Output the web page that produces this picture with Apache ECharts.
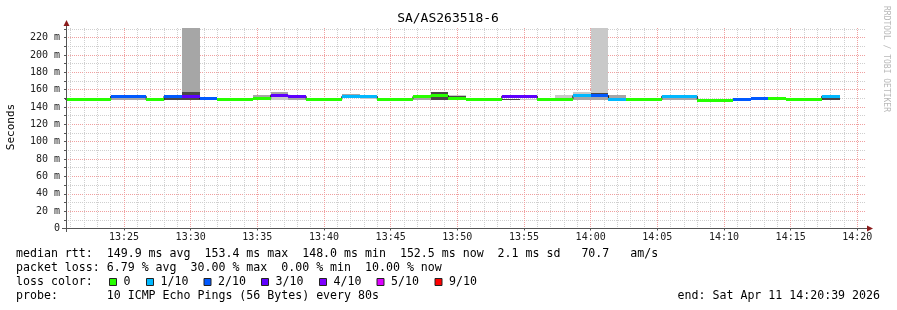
<!DOCTYPE html>
<html><head><meta charset="utf-8">
<script src="https://cdn.jsdelivr.net/npm/echarts@6/dist/echarts.min.js"></script>
<style>html,body{margin:0;padding:0;background:#fff}#c{width:897px;height:310px}</style>
</head><body><div id="c"></div>
<script>
// ---------------- data ----------------
const chartTitle = 'SA/AS263518-6';
const yAxisTitle = 'Seconds';
const watermark = 'RRDTOOL / TOBI OETIKER';
const viewStart = '13:20:39';
const viewEnd = '14:20:39';
const yMaxMs = 231;
const xTickLabels = ['13:25','13:30','13:35','13:40','13:45','13:50','13:55','14:00','14:05','14:10','14:15','14:20'];
const yTickLabels = ['0','20 m','40 m','60 m','80 m','100 m','120 m','140 m','160 m','180 m','200 m','220 m'];
const firstStepStart = '13:20:00';
const stepSeconds = 80;
// median RTT per 80 s step (ms)
const medianMs = [148.9,148.9,148.4,152.3,152.3,148.3,152.5,152.6,149.5,148.8,148.8,149.3,153.4,152.2,148.5,148.5,
  152.1,152.1,148.3,149.0,152.0,153.2,149.5,148.5,148.5,152.5,152.5,148.5,149.1,153.0,153.2,149.0,148.3,148.3,
  152.4,152.4,148.0,148.0,148.9,149.2,149.4,148.4,148.4,152.5];
// lost pings (out of 10) per step
const lossCount = [0,0,0,2,2,0,2,3,2,0,0,0,3,3,0,0,1,1,0,0,0,0,0,0,0,3,3,0,0,1,2,1,0,0,1,1,0,0,2,2,0,0,0,1];
// smoke bands (ms): light, mid, dark
const lightLo = [null,null,null,null,null,null,null,null,null,null,null,null,148.2,null,null,null,null,149.5,null,null,null,null,149.5,null,null,null,148.2,null,149.1,152.0,153.0,null,null,null,null,null,null,null,null,null,null,148.4,148.4,null];
const lightHi = [null,null,null,null,null,null,null,null,null,null,null,null,157.0,null,null,null,null,152.1,null,null,null,null,154.0,null,null,null,149.5,null,153.8,157.2,260,null,null,null,null,null,null,null,null,null,null,150.4,150.4,null];
const midLo   = [null,null,null,148.0,148.0,null,null,152.0,null,null,null,149.3,153.4,148.3,null,null,152.1,null,null,null,148.3,null,null,null,null,null,null,null,null,148.3,148.3,149.0,null,null,148.2,148.2,null,null,null,null,null,null,null,null];
const midHi   = [null,null,null,152.3,152.3,null,null,260,null,null,null,153.6,157.0,152.2,null,null,154.9,null,null,null,152.0,null,null,null,null,null,null,null,null,153.0,153.2,153.4,null,null,152.4,152.4,null,null,null,null,null,null,null,null];
const darkLo  = [null,null,null,null,null,null,148.0,148.0,149.5,null,null,null,null,null,null,null,null,null,null,null,null,148.3,149.5,null,null,148.2,null,null,null,null,153.2,null,null,null,null,null,null,null,null,null,null,null,null,148.2];
const darkHi  = [null,null,null,null,null,null,152.5,157.5,152.0,null,null,null,null,null,null,null,null,null,null,null,null,157.0,152.3,null,null,149.5,null,null,null,null,156.5,null,null,null,null,null,null,null,null,null,null,null,null,152.5];
const lossLegendLabels = ['0','1/10','2/10','3/10','4/10','5/10','9/10'];
const lossLegendCounts = [0,1,2,3,4,5,9];
const lossLegendColors = ['#26ff00','#00b8ff','#0059ff','#5e00ff','#7e00ff','#dd00ff','#ff0000'];
const statsLine1 = 'median rtt:  149.9 ms avg  153.4 ms max  148.0 ms min  152.5 ms now  2.1 ms sd   70.7   am/s';
const statsLine2 = 'packet loss: 6.79 % avg  30.00 % max  0.00 % min  10.00 % now';
const statsLine3 = 'loss color:';
const statsLine4 = 'probe:       10 ICMP Echo Pings (56 Bytes) every 80s';
const endText = 'end: Sat Apr 11 14:20:39 2026';

// ---------------- helpers ----------------
const toSec = s => { const p = s.split(':').map(Number); return p[0]*3600 + p[1]*60 + (p[2] || 0); };
const MONO = '"DejaVu Sans Mono", monospace';
const xMin = toSec(viewStart), xMax = toSec(viewEnd);
const majorX = xTickLabels.map(toSec);
const minorX = [];
for (let t = Math.ceil(xMin/60)*60; t <= xMax; t += 60) if (t % 300 !== 0) minorX.push(t);
const majorY = yTickLabels.map(s => parseFloat(s));
const minorY = [];
for (let v = 10; v <= yMaxMs; v += 20) minorY.push(v);
const t0 = toSec(firstStepStart);
const rows = medianMs.map((m, i) => [t0 + i*stepSeconds, m]);
const lineRows = rows.concat([[t0 + medianMs.length*stepSeconds, medianMs[medianMs.length-1]]]);
const colorOfLoss = n => lossLegendColors[lossLegendCounts.indexOf(n)] || '#ff0000';

function stepX(params, api) {
  const cs = params.coordSys;
  const t = api.value(0);
  const a = Math.max(cs.x, api.coord([t, 0])[0]);
  const b = Math.min(cs.x + cs.width, api.coord([t + stepSeconds, 0])[0]);
  return [Math.round(a), Math.round(b), cs];
}
function smokeItem(params, api) {
  const [x0, x1, cs] = stepX(params, api);
  if (x1 <= x0) return null;
  const i = params.dataIndex, t = api.value(0);
  const layers = [[lightLo, lightHi, '#c9c9c9'], [midLo, midHi, '#a6a6a6'], [darkLo, darkHi, '#484848']];
  const kids = [];
  for (const [lo, hi, col] of layers) {
    if (lo[i] == null || hi[i] == null) continue;
    const yT = Math.round(Math.max(cs.y, api.coord([t, hi[i]])[1]));
    const yB = Math.round(api.coord([t, lo[i]])[1]);
    kids.push({type: 'rect', shape: {x: x0, y: yT, width: x1 - x0, height: yB - yT}, style: {fill: col}});
  }
  return {type: 'group', children: kids};
}
function medianItem(params, api) {
  const [x0, x1] = stepX(params, api);
  if (x1 <= x0) return null;
  const y = api.coord([api.value(0), api.value(1)])[1];
  return {type: 'rect', shape: {x: x0, y: Math.round(y - 1.5), width: x1 - x0, height: 3},
          style: {fill: colorOfLoss(lossCount[params.dataIndex])}};
}

// ---------------- chart ----------------
const chart = echarts.init(document.getElementById('c'), null, {renderer: 'canvas', width: 897, height: 310});
const G = {left: 66, top: 28, right: 31, bottom: 81.5};
const gridBottomY = 310 - G.bottom;

const graphics = [
  {type: 'text', x: 448, y: 19, style: {text: chartTitle, font: '13px ' + MONO, fill: '#000', align: 'center', verticalAlign: 'middle'}},
  {type: 'text', x: 11, y: 127, rotation: Math.PI/2, style: {text: yAxisTitle, font: '11px ' + MONO, fill: '#000', align: 'center', verticalAlign: 'middle'}},
  {type: 'text', x: 886, y: 59, rotation: -Math.PI/2, style: {text: watermark, font: '8px ' + MONO, fill: '#b8b8b8', align: 'center', verticalAlign: 'middle'}},
  // axis lines + arrows
  {type: 'line', shape: {x1: 66.5, y1: 25, x2: 66.5, y2: 232}, style: {stroke: '#555', lineWidth: 1}, z: 50},
  {type: 'line', shape: {x1: 62, y1: 228.5, x2: 868, y2: 228.5}, style: {stroke: '#555', lineWidth: 1}, z: 50},
  {type: 'polygon', shape: {points: [[66.5, 20], [63.5, 26], [69.5, 26]]}, style: {fill: '#8b1c1c'}, z: 51},
  {type: 'polygon', shape: {points: [[873, 228.5], [867, 225.5], [867, 231.5]]}, style: {fill: '#8b1c1c'}, z: 51},
  // stats
  {type: 'text', x: 16, y: 254, style: {text: statsLine1, font: '11.6px ' + MONO, fill: '#000', verticalAlign: 'middle'}},
  {type: 'text', x: 16, y: 268, style: {text: statsLine2, font: '11.6px ' + MONO, fill: '#000', verticalAlign: 'middle'}},
  {type: 'text', x: 16, y: 282, style: {text: statsLine3, font: '11.6px ' + MONO, fill: '#000', verticalAlign: 'middle'}},
  {type: 'text', x: 16, y: 296, style: {text: statsLine4, font: '11.6px ' + MONO, fill: '#000', verticalAlign: 'middle'}},
  {type: 'text', x: 880, y: 296, style: {text: endText, font: '11.6px ' + MONO, fill: '#000', align: 'right', verticalAlign: 'middle'}}
];
const boxX = [109, 146, 203.5, 261, 319, 376.5, 434.5];
lossLegendLabels.forEach((lab, i) => {
  graphics.push({type: 'rect', shape: {x: boxX[i] + 0.5, y: 278.5, width: 7, height: 7}, style: {fill: lossLegendColors[i], stroke: '#222', lineWidth: 1}});
  graphics.push({type: 'text', x: boxX[i] + 14.5, y: 282, style: {text: lab, font: '11.6px ' + MONO, fill: '#000', verticalAlign: 'middle'}});
});

const majorSplit = {show: true, lineStyle: {color: '#f0a0a0', width: 1, type: [1, 1]}};
const minorSplit = {show: true, lineStyle: {color: '#cfcfcf', width: 1, type: [1, 1]}};

chart.setOption({
  animation: false,
  backgroundColor: '#ffffff',
  grid: Object.assign({containLabel: false, outerBoundsMode: 'none'}, G),
  xAxis: [
    {type: 'value', min: xMin, max: xMax, position: 'bottom',
     axisLine: {show: false, onZero: false},
     axisTick: {show: true, customValues: majorX, length: 2, lineStyle: {color: '#555'}},
     axisLabel: {show: true, customValues: majorX, margin: 4, color: '#202020', fontFamily: MONO, fontSize: 10,
                 formatter: v => xTickLabels[majorX.indexOf(Math.round(v))] || ''},
     splitLine: majorSplit},
    {type: 'value', min: xMin, max: xMax, position: 'bottom',
     axisLine: {show: false, onZero: false},
     axisTick: {show: false, customValues: minorX},
     axisLabel: {show: false, customValues: minorX},
     splitLine: minorSplit}
  ],
  yAxis: [
    {type: 'value', min: 0, max: yMaxMs, position: 'left',
     axisLine: {show: false, onZero: false},
     axisTick: {show: true, customValues: majorY, length: 2, lineStyle: {color: '#555'}},
     axisLabel: {show: true, customValues: majorY, margin: 6, color: '#202020', fontFamily: MONO, fontSize: 10,
                 formatter: v => yTickLabels[majorY.indexOf(Math.round(v))] || ''},
     splitLine: majorSplit},
    {type: 'value', min: 0, max: yMaxMs, position: 'left',
     axisLine: {show: false, onZero: false},
     axisTick: {show: true, customValues: minorY, length: 2, lineStyle: {color: '#555'}},
     axisLabel: {show: false, customValues: minorY},
     splitLine: minorSplit}
  ],
  series: [
    {type: 'custom', name: 'smoke', coordinateSystem: 'cartesian2d', xAxisIndex: 0, yAxisIndex: 0,
     data: rows, encode: {x: 0, y: 1}, renderItem: smokeItem, z: 1, silent: true},
    {type: 'line', name: 'median-edge', xAxisIndex: 0, yAxisIndex: 0, data: lineRows, step: 'end',
     symbol: 'none', lineStyle: {color: '#1a1a1a', width: 1}, z: 2, silent: true},
    {type: 'custom', name: 'median', coordinateSystem: 'cartesian2d', xAxisIndex: 0, yAxisIndex: 0,
     data: rows, encode: {x: 0, y: 1}, renderItem: medianItem, z: 3, silent: true}
  ],
  graphic: graphics
});
</script></body></html>
